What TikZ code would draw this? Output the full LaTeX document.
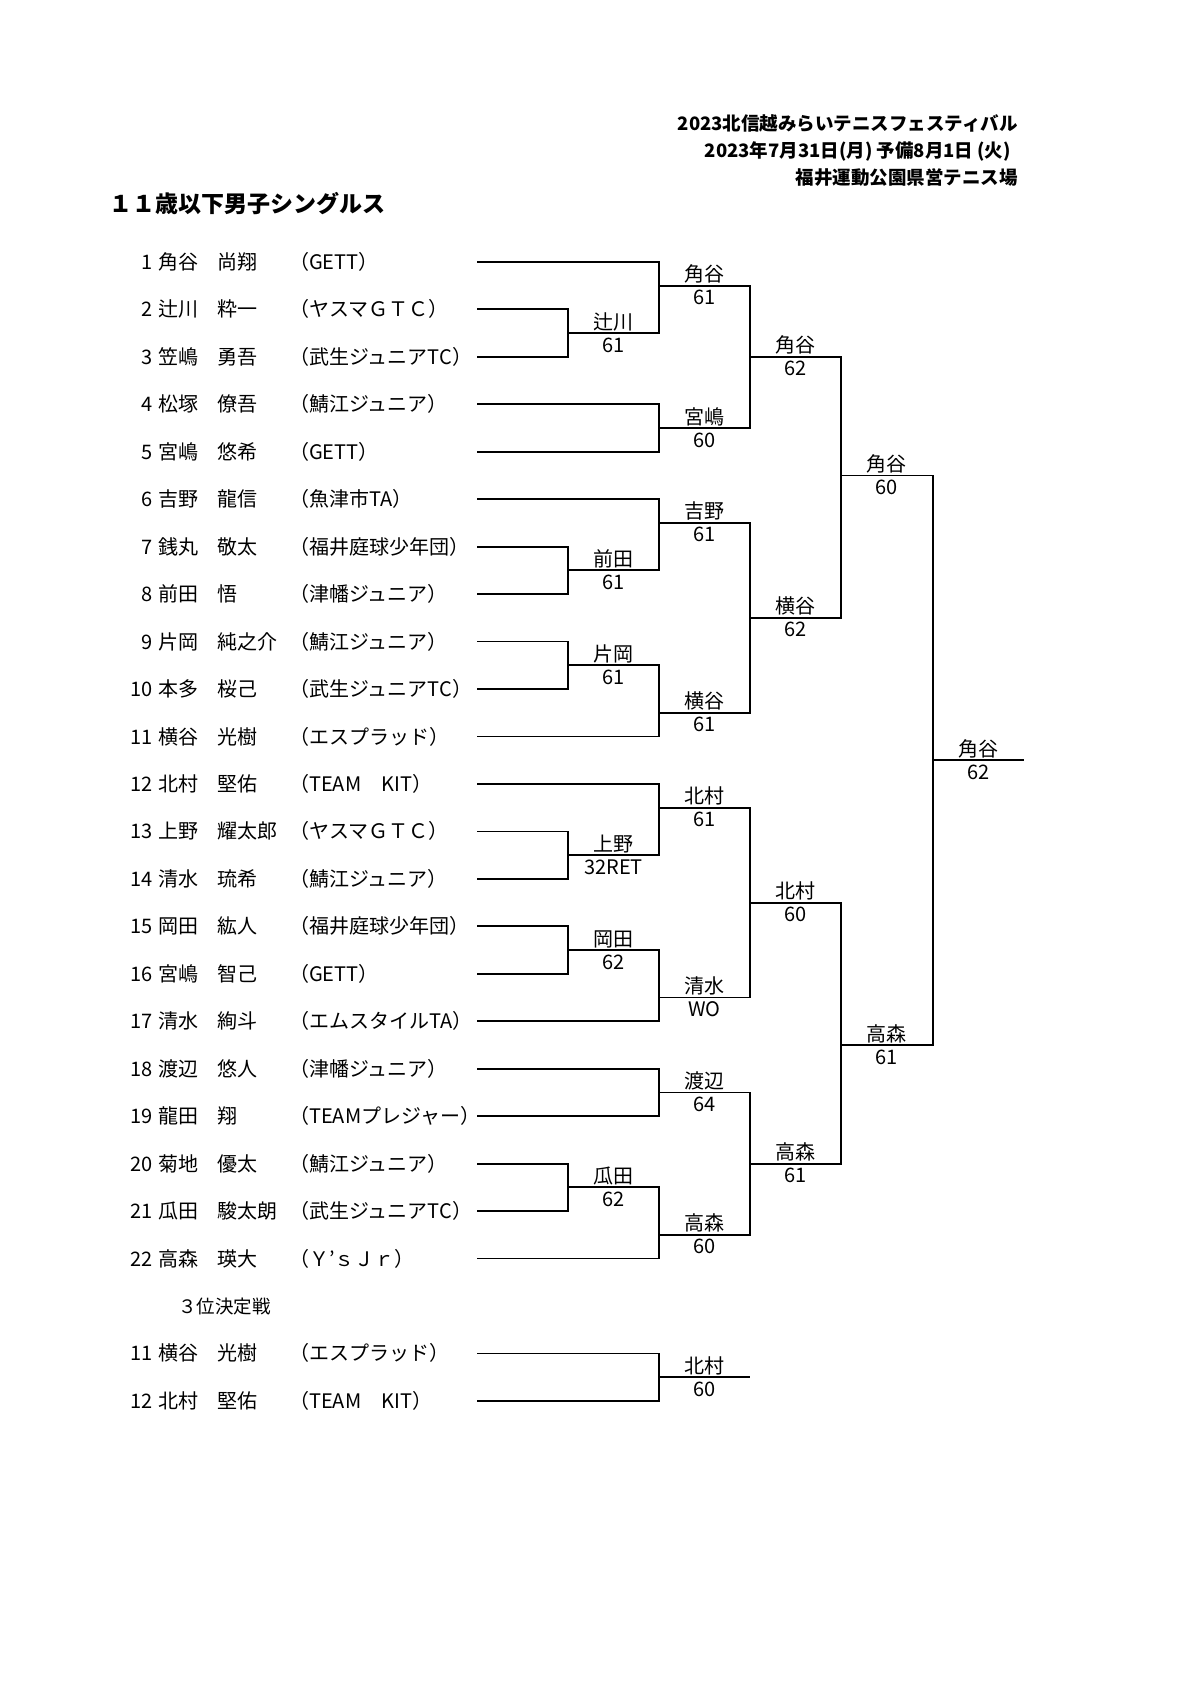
\documentclass[tikz,border=0pt]{standalone}
\usepackage{fontspec}
\setmainfont{Noto Sans CJK JP}
\begin{document}
\begin{tikzpicture}[x=1pt,y=-1pt,
  txt/.style={inner sep=0pt, font=\fontsize{20}{24}\selectfont},
  numtxt/.style={txt, anchor=base east},
  lefttxt/.style={txt, anchor=base west},
  wintxt/.style={txt, anchor=base},
  brk/.style={line width=1.8pt},
  titletxt/.style={inner sep=0pt, anchor=base east, font=\fontsize{18.5}{22}\selectfont\bfseries}]
\fill[white] (0,0) rectangle (1200,1697);
\path[use as bounding box] (0,0) rectangle (1200,1697);
\node[titletxt] (t1) at (1018,130) {2023北信越みらいテニスフェスティバル};
\node[titletxt] (t2) at (1011,157.5) {2023年7月31日(月) 予備8月1日 (火)};
\node[titletxt] (t3) at (1018,184) {福井運動公園県営テニス場};
\node[inner sep=0pt, anchor=base west, font=\fontsize{23}{27}\selectfont\bfseries] (head) at (109,212.7) {１１歳以下男子シングルス};

\begin{scope}[yshift=-214.44pt, y=-47.46pt]
 \foreach \r/\n/\s/\g/\c in {
   1/1/角谷/尚翔/（GETT）,
   2/2/辻川/粋一/（ヤスマＧＴＣ）,
   3/3/笠嶋/勇吾/（武生ジュニアTC）,
   4/4/松塚/僚吾/（鯖江ジュニア）,
   5/5/宮嶋/悠希/（GETT）,
   6/6/吉野/龍信/（魚津市TA）,
   7/7/銭丸/敬太/（福井庭球少年団）,
   8/8/前田/悟/（津幡ジュニア）,
   9/9/片岡/純之介/（鯖江ジュニア）,
   10/10/本多/桜己/（武生ジュニアTC）,
   11/11/横谷/光樹/（エスプラッド）,
   12/12/北村/堅佑/（TEAM　KIT）,
   13/13/上野/耀太郎/（ヤスマＧＴＣ）,
   14/14/清水/琉希/（鯖江ジュニア）,
   15/15/岡田/紘人/（福井庭球少年団）,
   16/16/宮嶋/智己/（GETT）,
   17/17/清水/絢斗/（エムスタイルTA）,
   18/18/渡辺/悠人/（津幡ジュニア）,
   19/19/龍田/翔/（TEAMプレジャー）,
   20/20/菊地/優太/（鯖江ジュニア）,
   21/21/瓜田/駿太朗/（武生ジュニアTC）,
   22/22/高森/瑛大/（Ｙ’ｓＪｒ）,
   24/11/横谷/光樹/（エスプラッド）,
   25/12/北村/堅佑/（TEAM　KIT）} {
   \node[numtxt, yshift=-7.5pt] (n\r) at (153,\r) {\n};
   \node[lefttxt, yshift=-7.5pt] (s\r) at (158.5,\r) {\s};
   \node[lefttxt, yshift=-7.5pt] (g\r) at (217.5,\r) {\g};
   \node[lefttxt, yshift=-7.5pt] (c\r) at (289,\r) {\c};
   \coordinate (p\r) at (477,\r);
 }
 \node[inner sep=0pt, anchor=base west, yshift=-7pt, font=\fontsize{18.5}{22}\selectfont] (third) at (178,23) {３位決定戦};

 % round 1
 \coordinate (m23) at (568,2.5);
 \coordinate (m78) at (568,7.5);
 \coordinate (m910) at (568,9.5);
 \coordinate (m1314) at (568,13.5);
 \coordinate (m1516) at (568,15.5);
 \coordinate (m2021) at (568,20.5);
 % round 2
 \coordinate (q1) at (659,1.5);
 \coordinate (q2) at (659,4.5);
 \coordinate (q3) at (659,6.5);
 \coordinate (q4) at (659,10.5);
 \coordinate (q5) at (659,12.5);
 \coordinate (q6) at (659,16.5);
 \coordinate (q7) at (659,18.5);
 \coordinate (q8) at (659,21.5);
 % round 3
 \coordinate (u1) at (750,3);
 \coordinate (u2) at (750,8.5);
 \coordinate (u3) at (750,14.5);
 \coordinate (u4) at (750,20);
 % round 4
 \coordinate (v1) at (841,5.5);
 \coordinate (v2) at (841,17.5);
 % final
 \coordinate (fin) at (933,11.5);
 \coordinate (finend) at (1024,11.5);
 % third place
 \coordinate (tp) at (659,24.5);
 \coordinate (tpend) at (750,24.5);

 \foreach \a/\b in {p2/m23,p3/m23,p7/m78,p8/m78,p9/m910,p10/m910,
   p13/m1314,p14/m1314,p15/m1516,p16/m1516,p20/m2021,p21/m2021,
   p1/q1,m23/q1,p4/q2,p5/q2,p6/q3,m78/q3,m910/q4,p11/q4,
   p12/q5,m1314/q5,m1516/q6,p17/q6,p18/q7,p19/q7,m2021/q8,p22/q8,
   q1/u1,q2/u1,q3/u2,q4/u2,q5/u3,q6/u3,q7/u4,q8/u4,
   u1/v1,u2/v1,u3/v2,u4/v2,v1/fin,v2/fin,p24/tp,p25/tp}
   \draw[brk] (\a) -| (\b);
 \draw[brk] (fin) -- (finend);
 \draw[brk] (tp) -- (tpend);

 \foreach \m/\w/\sc in {m23/辻川/61, m78/前田/61, m910/片岡/61, m1314/上野/32RET,
   m1516/岡田/62, m2021/瓜田/62, q1/角谷/61, q2/宮嶋/60, q3/吉野/61, q4/横谷/61,
   q5/北村/61, q6/清水/WO, q7/渡辺/64, q8/高森/60, u1/角谷/62, u2/横谷/62,
   u3/北村/60, u4/高森/61, v1/角谷/60, v2/高森/61, fin/角谷/62, tp/北村/60} {
   \node[wintxt] (w\m) at ([xshift=45.5pt,yshift=4pt]\m) {\w};
   \node[wintxt] (sc\m) at ([xshift=45.5pt,yshift=-19pt]\m) {\sc};
 }
\end{scope}
\end{tikzpicture}
\end{document}
